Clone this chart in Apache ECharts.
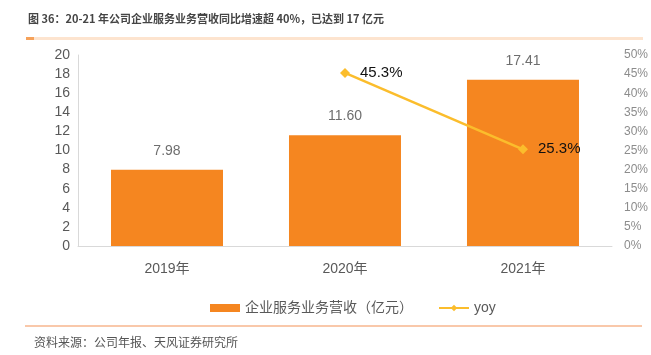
<!DOCTYPE html>
<html><head><meta charset="utf-8">
<script src="https://cdn.jsdelivr.net/npm/echarts@6/dist/echarts.min.js"></script>
<style>html,body{margin:0;padding:0;background:#fff}#c{width:651px;height:355px}</style>
</head><body><div id="c"></div>
<script>
const categories = ['2019年', '2020年', '2021年'];
const revenue = [7.98, 11.60, 17.41];
const yoy = [null, 45.3, 25.3];
const leftTicks = {min: 0, max: 20, interval: 2};
const rightTicks = {min: 0, max: 50, interval: 5};
const titleText = '图 36：20-21 年公司企业服务业务营收同比增速超 40%，已达到 17 亿元';
const sourceText = '资料来源：公司年报、天风证券研究所';

const chart = echarts.init(document.getElementById('c'));
const font = '"Liberation Sans", Arial, "Noto Sans CJK SC", sans-serif';
chart.setOption({
  animation: false,
  textStyle: {fontFamily: font},
  graphic: [
    {type: 'text', left: 28, top: 13, style: {text: titleText, font: 'bold 11px "Liberation Sans Narrow", "Noto Sans CJK SC", sans-serif', fill: '#454545'}},
    {type: 'rect', shape: {x: 26, y: 37, width: 617, height: 3}, style: {fill: '#fde4cf'}},
    {type: 'rect', shape: {x: 26, y: 37, width: 8, height: 3}, style: {fill: '#f6a25a'}},
    {type: 'rect', shape: {x: 25, y: 325, width: 617, height: 2}, style: {fill: '#f9c8aa'}},
    {type: 'text', left: 34, top: 338, style: {text: sourceText, font: '12px ' + font, fill: '#555'}}
  ],
  legend: {
    left: 205, top: 296, itemWidth: 30, itemHeight: 8, itemGap: 25,
    textStyle: {fontSize: 14, color: '#595959'},
    data: [{name: '企业服务业务营收（亿元）', icon: 'rect'}, {name: 'yoy'}]
  },
  grid: {left: 78, right: 38, top: 55, bottom: 109, containLabel: false},
  xAxis: {
    type: 'category', data: categories,
    axisLine: {lineStyle: {color: '#d9d9d9'}},
    axisTick: {show: false},
    axisLabel: {fontSize: 14, color: '#595959', margin: 16}
  },
  yAxis: [
    {type: 'value', min: leftTicks.min, max: leftTicks.max, interval: leftTicks.interval,
     axisLine: {show: true, lineStyle: {color: '#d9d9d9'}}, axisTick: {show: false},
     splitLine: {show: false},
     axisLabel: {fontSize: 14, color: '#595959', margin: 8}},
    {type: 'value', min: rightTicks.min, max: rightTicks.max, interval: rightTicks.interval,
     axisLine: {show: false}, axisTick: {show: false}, splitLine: {show: false},
     axisLabel: {fontSize: 12, color: '#8c8c8c', margin: 12, formatter: '{value}%'}}
  ],
  series: [
    {name: '企业服务业务营收（亿元）', type: 'bar', data: revenue, barWidth: 112,
     itemStyle: {color: '#f58620'},
     label: {show: true, position: 'top', distance: 12, fontSize: 14, color: '#6e6e6e',
             formatter: p => p.value.toFixed(2)}},
    {name: 'yoy', type: 'line', yAxisIndex: 1, data: yoy, connectNulls: false,
     symbol: 'diamond', symbolSize: 10,
     lineStyle: {color: '#fbbd2c', width: 2.5}, itemStyle: {color: '#fbbd2c'},
     label: {show: true, position: 'right', distance: 10, fontSize: 15, color: '#111',
             formatter: p => p.value.toFixed(1) + '%'}}
  ]
});
</script></body></html>
